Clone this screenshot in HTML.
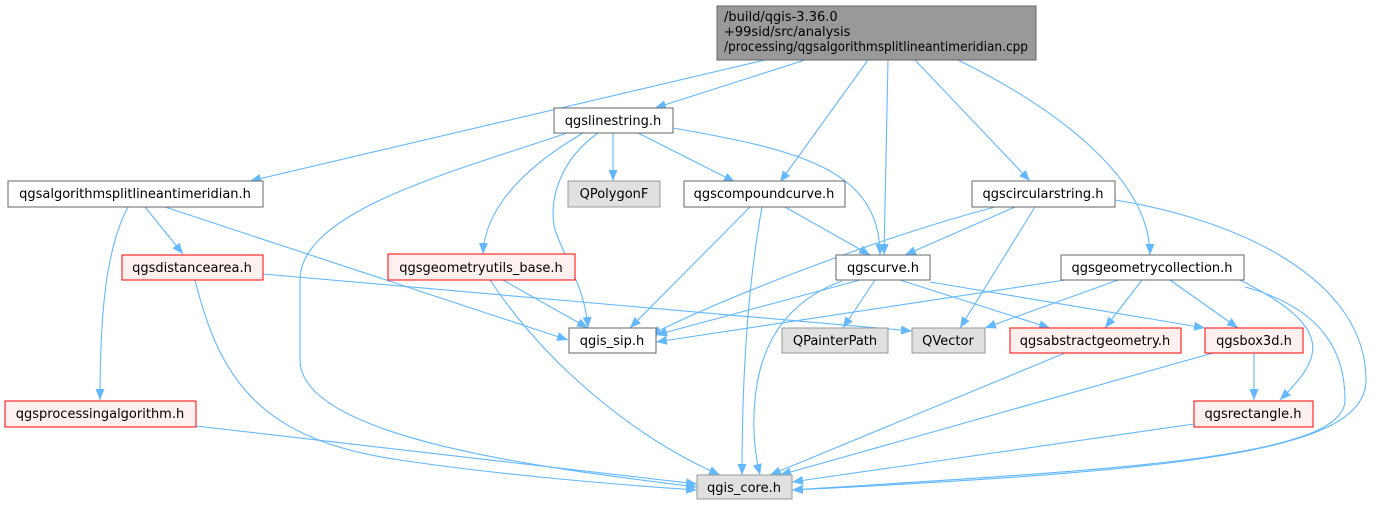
<!DOCTYPE html>
<html><head><meta charset="utf-8"><style>
html,body{margin:0;padding:0;background:#fff;}
svg{display:block;}
text{font-family:"DejaVu Sans","Liberation Sans",sans-serif;font-size:13px;fill:#000;}
.e{fill:none;stroke:#63b8ff;stroke-width:1.1;marker-end:url(#a);}
.w{fill:#fff;stroke:#666;}
.g{fill:#e0e0e0;stroke:#999;}
.r{fill:#fff0f0;stroke:#ff0000;}
</style></head><body>
<svg width="1373" height="505" viewBox="0 0 1373 505" xmlns="http://www.w3.org/2000/svg">
<defs><marker id="a" markerWidth="11" markerHeight="9" refX="11" refY="4.5" orient="auto" markerUnits="userSpaceOnUse"><path d="M0,0 L11,4.5 L0,9 z" fill="#63b8ff"/></marker></defs>

<!-- edges -->
<path class="e" d="M765,60 L250,181"/>
<path class="e" d="M805,60 L655,108"/>
<path class="e" d="M868,60 L780,182"/>
<path class="e" d="M888,60 L884,255"/>
<path class="e" d="M915,60 L1030,181"/>
<path class="e" d="M958,60 C1060,110 1150,180 1150,255"/>
<path class="e" d="M567,133 C460,170 300,210 300,280 L300,360 C300,440 560,470 697,487"/>
<path class="e" d="M598,133 C560,160 548,200 555,230 C570,270 585,290 588,328"/>
<path class="e" d="M613,133 L613,181"/>
<path class="e" d="M583,133 C520,170 485,210 483,254"/>
<path class="e" d="M638,133 L735,182"/>
<path class="e" d="M673,128 C800,150 880,170 880,255"/>
<path class="e" d="M128,207 C105,250 100,320 100,400"/>
<path class="e" d="M145,207 L183,254"/>
<path class="e" d="M165,207 L568,340"/>
<path class="e" d="M263,274 L912,331"/>
<path class="e" d="M195,280 C220,380 260,440 400,460 C500,475 620,485 697,490"/>
<path class="e" d="M503,280 L588,328"/>
<path class="e" d="M490,280 C550,370 640,440 720,475"/>
<path class="e" d="M750,207 L630,328"/>
<path class="e" d="M762,207 C745,300 742,400 742,475"/>
<path class="e" d="M785,207 L870,255"/>
<path class="e" d="M995,207 C870,240 720,300 650,335"/>
<path class="e" d="M1015,207 L905,255"/>
<path class="e" d="M1035,207 L960,328"/>
<path class="e" d="M1115,200 C1240,220 1366,280 1366,380 C1366,450 1200,470 792,490"/>
<path class="e" d="M860,280 L656,335"/>
<path class="e" d="M875,280 L843,328"/>
<path class="e" d="M842,281 C790,300 760,340 755,400 C752,430 755,455 760,475"/>
<path class="e" d="M900,280 L1050,328"/>
<path class="e" d="M930,282 L1205,328"/>
<path class="e" d="M1065,280 L656,342"/>
<path class="e" d="M1118,280 L985,328"/>
<path class="e" d="M1142,280 L1105,328"/>
<path class="e" d="M1170,280 L1238,328"/>
<path class="e" d="M1240,280 C1340,330 1320,360 1280,400"/>
<path class="e" d="M1245,287 C1330,310 1345,360 1345,400 C1345,460 1100,470 792,490"/>
<path class="e" d="M1065,353 L770,475"/>
<path class="e" d="M1213,353 L780,475"/>
<path class="e" d="M1254,353 L1254,400"/>
<path class="e" d="M1194,424 L792,482"/>
<path class="e" d="M196,426 L697,484"/>

<!-- nodes -->
<rect x="717" y="6" width="319" height="54" fill="#999" stroke="#666"/>
<text x="724" y="21">/build/qgis-3.36.0</text>
<text x="724" y="36">+99sid/src/analysis</text>
<text x="724" y="51" textLength="304" lengthAdjust="spacingAndGlyphs">/processing/qgsalgorithmsplitlineantimeridian.cpp</text>

<rect class="w" x="554" y="108" width="119" height="25"/><text x="613" y="125" text-anchor="middle">qgslinestring.h</text>
<rect class="w" x="8" y="181" width="255" height="26"/><text x="135" y="198" text-anchor="middle">qgsalgorithmsplitlineantimeridian.h</text>
<rect class="g" x="568" y="181" width="92" height="26"/><text x="614" y="198" text-anchor="middle">QPolygonF</text>
<rect class="w" x="684" y="181" width="161" height="26"/><text x="764" y="198" text-anchor="middle">qgscompoundcurve.h</text>
<rect class="w" x="972" y="181" width="143" height="26"/><text x="1043" y="198" text-anchor="middle">qgscircularstring.h</text>
<rect class="r" x="122" y="255" width="141" height="25"/><text x="192" y="272" text-anchor="middle">qgsdistancearea.h</text>
<rect class="r" x="388" y="254" width="187" height="26"/><text x="481" y="272" text-anchor="middle">qgsgeometryutils_base.h</text>
<rect class="w" x="836" y="255" width="94" height="25"/><text x="883" y="272" text-anchor="middle">qgscurve.h</text>
<rect class="w" x="1061" y="255" width="183" height="25"/><text x="1152" y="272" text-anchor="middle">qgsgeometrycollection.h</text>
<rect class="w" x="569" y="328" width="87" height="25"/><text x="612" y="345" text-anchor="middle">qgis_sip.h</text>
<rect class="g" x="782" y="328" width="106" height="25"/><text x="835" y="345" text-anchor="middle">QPainterPath</text>
<rect class="g" x="912" y="328" width="73" height="25"/><text x="948" y="345" text-anchor="middle">QVector</text>
<rect class="r" x="1010" y="328" width="171" height="25"/><text x="1095" y="345" text-anchor="middle">qgsabstractgeometry.h</text>
<rect class="r" x="1205" y="328" width="98" height="25"/><text x="1254" y="345" text-anchor="middle">qgsbox3d.h</text>
<rect class="r" x="5" y="401" width="191" height="26"/><text x="100" y="418" text-anchor="middle">qgsprocessingalgorithm.h</text>
<rect class="r" x="1194" y="401" width="119" height="26"/><text x="1253" y="418" text-anchor="middle">qgsrectangle.h</text>
<rect class="g" x="697" y="475" width="95" height="24"/><text x="744" y="492" text-anchor="middle">qgis_core.h</text>
</svg>
</body></html>
